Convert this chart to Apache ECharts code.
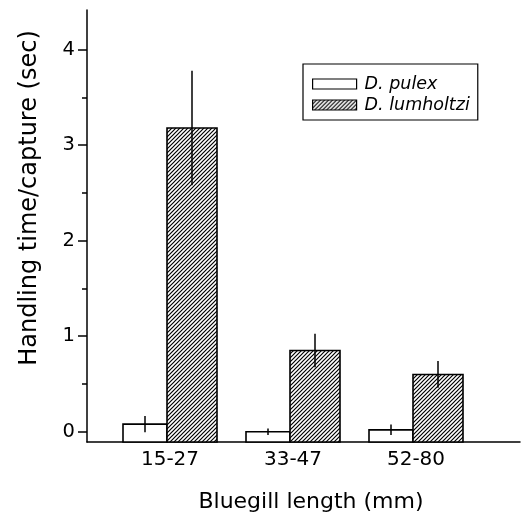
<!DOCTYPE html>
<html>
<head>
<meta charset="utf-8">
<script src="https://cdn.jsdelivr.net/npm/echarts@6/dist/echarts.min.js"></script>
<style>
html,body{margin:0;padding:0;background:#fff;}
#chart{width:521px;height:519px;}
</style>
</head>
<body>
<div id="chart"></div>
<script>
// ---- data ----
const categories = ['15-27', '33-47', '52-80'];
const seriesNames = ['D. pulex', 'D. lumholtzi'];
const pulexMean = [0.08, 0.00, 0.02];
const pulexErr = [0.085, 0.035, 0.055];
const lumMean = [3.18, 0.85, 0.60];
const lumErr = [0.60, 0.175, 0.14];
const yMajorTicks = [0, 1, 2, 3, 4];
const yMinorTicks = [0.5, 1.5, 2.5, 3.5];
const xAxisTitle = 'Bluegill length (mm)';
const yAxisTitle = 'Handling time/capture (sec)';

// ---- styling / layout ----
const Y_MIN = -0.107, Y_MAX = 4.415;
const X_MIN = 0.3252, X_MAX = 3.8455;
const FONT = 'DejaVu Sans';

function makeHatch() {
  const c = document.createElement('canvas');
  c.width = 4; c.height = 4;
  const ctx = c.getContext('2d');
  ctx.fillStyle = '#fff';
  ctx.fillRect(0, 0, 4, 4);
  ctx.strokeStyle = '#000';
  ctx.lineWidth = 1.2;
  ctx.beginPath();
  ctx.moveTo(-1, 5); ctx.lineTo(5, -1);
  ctx.moveTo(-1, 1); ctx.lineTo(1, -1);
  ctx.moveTo(3, 5); ctx.lineTo(5, 3);
  ctx.stroke();
  return c;
}
const hatch = { image: makeHatch(), repeat: 'repeat' };
const fills = ['#ffffff', hatch];
const barLayout = [{ off: -47, w: 44 }, { off: -3, w: 50 }];

function buildData(means, errs) {
  return categories.map((c, i) => [i + 1, means[i], errs[i]]);
}

function makeRender(si) {
  return function (params, api) {
    const x = api.value(0), v = api.value(1), e = api.value(2);
    const top = api.coord([x, v]);
    const base = api.coord([x, Y_MIN]);
    const lay = barLayout[si];
    const left = top[0] + lay.off;
    const cx = left + lay.w / 2;
    const hi = api.coord([x, v + e])[1];
    const lo = api.coord([x, v - e])[1];
    return {
      type: 'group',
      children: [
        {
          type: 'rect',
          shape: { x: left, y: top[1], width: lay.w, height: base[1] - top[1] },
          style: { fill: fills[si], stroke: '#000', lineWidth: 1.6 }
        },
        {
          type: 'line',
          shape: { x1: cx, y1: hi, x2: cx, y2: lo },
          style: { stroke: '#000', lineWidth: 1.5 }
        }
      ]
    };
  };
}

const chart = echarts.init(document.getElementById('chart'), null, { renderer: 'canvas' });
chart.setOption({
  backgroundColor: '#fff',
  animation: false,
  grid: { left: 87, right: 1, top: 10, bottom: 77, containLabel: false },
  legend: {
    orient: 'vertical',
    left: 303,
    top: 64,
    padding: [10, 8, 5, 9],
    itemGap: 1,
    itemWidth: 44,
    itemHeight: 10,
    borderColor: '#000',
    borderWidth: 1.2,
    icon: 'rect',
    textStyle: { fontFamily: FONT, fontStyle: 'italic', fontSize: 17.5, color: '#000', lineHeight: 20, padding: [0, 0, 0, 3] },
    data: [
      { name: seriesNames[0], itemStyle: { color: '#fff', borderColor: '#000', borderWidth: 1.2 } },
      { name: seriesNames[1], itemStyle: { color: hatch, borderColor: '#000', borderWidth: 1.2 } }
    ]
  },
  xAxis: {
    type: 'value',
    min: X_MIN,
    max: X_MAX,
    position: 'bottom',
    name: xAxisTitle,
    nameLocation: 'middle',
    nameGap: 49,
    nameTextStyle: { fontFamily: FONT, fontSize: 22, color: '#000', padding: [0, 0, 0, 15] },
    axisLine: { show: true, onZero: false, lineStyle: { color: '#000', width: 1.5 } },
    axisTick: { show: false },
    splitLine: { show: false },
    axisLabel: {
      customValues: [1, 2, 3],
      formatter: v => categories[Math.round(v) - 1],
      margin: 8,
      fontFamily: FONT, fontSize: 20, color: '#000'
    }
  },
  yAxis: [
    {
      type: 'value',
      min: Y_MIN,
      max: Y_MAX,
      position: 'left',
      name: yAxisTitle,
      nameLocation: 'middle',
      nameGap: 45,
      nameTextStyle: { fontFamily: FONT, fontSize: 24, color: '#000', padding: [0, 0, 0, 56] },
      axisLine: { show: true, onZero: false, lineStyle: { color: '#000', width: 1.5 } },
      axisTick: { show: true, customValues: yMajorTicks, length: 9, lineStyle: { color: '#000', width: 1.5 } },
      axisLabel: { customValues: yMajorTicks, margin: 12, fontFamily: FONT, fontSize: 19.5, color: '#000' },
      splitLine: { show: false }
    },
    {
      type: 'value',
      min: Y_MIN,
      max: Y_MAX,
      position: 'left',
      offset: 0,
      axisLine: { show: false, onZero: false },
      axisTick: { show: true, customValues: yMinorTicks, length: 5, lineStyle: { color: '#000', width: 1.5 } },
      axisLabel: { show: false },
      splitLine: { show: false }
    }
  ],
  series: [
    {
      name: seriesNames[0],
      type: 'custom',
      itemStyle: { color: '#fff', borderColor: '#000' },
      renderItem: makeRender(0),
      encode: { x: 0, y: 1 },
      data: buildData(pulexMean, pulexErr)
    },
    {
      name: seriesNames[1],
      type: 'custom',
      itemStyle: { color: hatch, borderColor: '#000' },
      renderItem: makeRender(1),
      encode: { x: 0, y: 1 },
      data: buildData(lumMean, lumErr)
    }
  ]
});
</script>
</body>
</html>
